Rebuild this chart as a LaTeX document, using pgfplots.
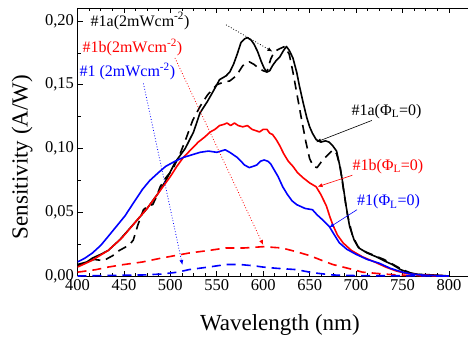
\documentclass[border=0pt]{standalone}
\usepackage{fontspec}
\setmainfont{Liberation Serif}
\usepackage{pgfplots}
\pgfplotsset{compat=1.18}
\usetikzlibrary{arrows.meta}
\definecolor{myred}{RGB}{255,0,0}
\definecolor{myblue}{RGB}{0,0,255}
\begin{document}
\begin{tikzpicture}
\useasboundingbox (-77.5pt,-64pt) rectangle (392.5pt,276pt);
\begin{axis}[
  scale only axis,
  width=390pt, height=268pt,
  xmin=400, xmax=820, ymin=0, ymax=0.2102,
  axis y line*=left,
  xtick={400,450,...,800},
  ytick={0,0.05,0.10,0.15,0.20},
  minor x tick num=3,
  minor y tick num=1,
  major tick length=5pt, minor tick length=3pt,
  tick style={line width=0.7pt, black},
  axis line style={line width=0.8pt},
  /pgf/number format/assume math mode=true,
  yticklabel style={/pgf/number format/.cd, use comma, fixed, fixed zerofill, precision=2},
  xticklabel style={/pgf/number format/.cd, 1000 sep={}},
  ticklabel style={font=\fontsize{16.5}{18}\selectfont},
  scaled y ticks=false,
  xlabel={Wavelength (nm)},
  ylabel={Sensitivity (A/W)},
  label style={font=\fontsize{23}{26}\selectfont},
  xlabel style={at={(axis description cs:0.519,-0.183)}, anchor=center},
  ylabel style={at={(axis description cs:-0.142,0.444)}, anchor=center},
  every axis plot/.append style={line width=1.6pt, line join=round},
  mydash/.style={dash pattern=on 9pt off 6pt},
]
% Black solid #1a(PhiL=0)
\addplot[black] coordinates {
(400,0.009)(410,0.011)(416,0.014)(425,0.017)(433,0.020)(445,0.028)(462,0.042)(475,0.053)(487,0.065)(496,0.076)(505,0.089)(516,0.100)(525,0.113)(532,0.128)(540,0.137)(547,0.146)(553,0.154)(560,0.157)(564,0.160)(568,0.166)(572,0.174)(576,0.183)(580,0.186)(583,0.187)(587,0.185)(590,0.182)(594,0.176)(598,0.168)(601,0.163)(604,0.160)(607,0.161)(610,0.165)(614,0.169)(618,0.172)(622,0.177)(625,0.180)(628,0.177)(632,0.171)(636,0.160)(639,0.149)(643,0.136)(647,0.124)(650,0.117)(653,0.112)(657,0.107)(662,0.105)(667,0.106)(671,0.105)(675,0.102)(679,0.098)(682,0.088)(685,0.076)(689,0.056)(693,0.039)(698,0.028)(703,0.022)(712,0.018)(722,0.015)(730,0.012)(739,0.009)(748,0.005)(757,0.0025)(768,0.0012)(778,0.001)(790,0.0005)(800,0.0)
};
% Black dashed #1a(2mW)
\addplot[black, mydash] coordinates {
(400,0.008)(418,0.013)(428,0.012)(438,0.016)(445,0.020)(455,0.024)(460,0.028)(465,0.040)(471,0.052)(476,0.055)(481,0.056)(485,0.062)(489,0.070)(495,0.077)(502,0.083)(510,0.095)(517,0.108)(524,0.122)(532,0.133)(540,0.142)(550,0.150)(557,0.152)(564,0.153)(571,0.157)(578,0.165)(585,0.168)(590,0.166)(595,0.163)(600,0.161)(604,0.160)(608,0.170)(612,0.176)(617,0.178)(623,0.180)(628,0.174)(632,0.160)(636,0.144)(641,0.124)(646,0.105)(650,0.092)(654,0.086)(658,0.085)(662,0.089)(667,0.093)(671,0.096)(675,0.099)(679,0.096)(683,0.085)(687,0.065)(691,0.047)(696,0.032)(702,0.023)(710,0.019)(720,0.016)(730,0.013)(740,0.009)(750,0.005)(760,0.002)(770,0.001)(790,0.0003)(800,0.0)
};
% Red solid #1b(PhiL=0)
\addplot[myred] coordinates {
(400,0.007)(415,0.012)(433,0.020)(448,0.030)(462,0.042)(475,0.053)(487,0.065)(500,0.078)(507,0.086)(514,0.093)(522,0.099)(530,0.105)(537,0.109)(543,0.113)(548,0.115)(553,0.118)(558,0.119)(561,0.120)(565,0.118)(569,0.120)(573,0.118)(578,0.117)(583,0.118)(588,0.115)(592,0.114)(596,0.113)(600,0.115)(604,0.115)(607,0.112)(610,0.111)(614,0.107)(618,0.102)(622,0.096)(627,0.090)(632,0.086)(637,0.081)(643,0.077)(650,0.073)(657,0.070)(662,0.064)(668,0.055)(672,0.046)(675,0.040)(680,0.032)(686,0.026)(695,0.020)(707,0.015)(720,0.011)(732,0.007)(743,0.004)(754,0.002)(765,0.001)(780,0.0005)(800,0.0)
};
% Red dashed #1b(2mW)
\addplot[myred, mydash] coordinates {
(400,0.003)(420,0.005)(433,0.007)(450,0.009)(470,0.011)(490,0.014)(505,0.016)(520,0.018)(541,0.020)(560,0.022)(580,0.022)(600,0.023)(620,0.022)(636,0.019)(650,0.016)(664,0.012)(675,0.009)(686,0.007)(697,0.005)(707,0.003)(723,0.002)(740,0.001)(760,0.0003)(800,0.0)
};
% Blue solid #1(PhiL=0)
\addplot[myblue] coordinates {
(400,0.011)(408,0.014)(416,0.018)(425,0.024)(433,0.031)(442,0.039)(451,0.047)(460,0.057)(470,0.068)(478,0.075)(487,0.081)(495,0.086)(505,0.090)(514,0.093)(523,0.095)(532,0.097)(541,0.098)(550,0.097)(559,0.099)(564,0.097)(568,0.095)(572,0.093)(576,0.090)(580,0.087)(585,0.085)(589,0.086)(593,0.087)(597,0.090)(601,0.091)(605,0.090)(608,0.088)(612,0.083)(616,0.078)(621,0.070)(626,0.064)(631,0.059)(636,0.056)(645,0.053)(653,0.052)(658,0.048)(664,0.044)(671,0.039)(676,0.033)(682,0.026)(690,0.021)(700,0.017)(712,0.013)(725,0.010)(737,0.006)(750,0.003)(760,0.0015)(775,0.0005)(800,0.0)
};
% Blue dashed #1(2mW)
\addplot[myblue, mydash] coordinates {
(400,0.0)(440,0.0005)(470,0.0008)(490,0.0015)(508,0.003)(520,0.005)(541,0.007)(560,0.009)(575,0.009)(590,0.008)(600,0.007)(615,0.006)(636,0.005)(650,0.003)(660,0.002)(675,0.0008)(700,0.0003)(800,0.0)
};
% annotations
\node[anchor=west, inner sep=0pt, font=\fontsize{16}{18}\selectfont, black] at (axis cs:414,0.200) {\#1a(2mWcm\textsuperscript{-2})};
\node[anchor=west, inner sep=0pt, font=\fontsize{16}{18}\selectfont, myred] at (axis cs:405.4,0.1795) {\#1b(2mWcm\textsuperscript{-2})};
\node[anchor=west, inner sep=0pt, font=\fontsize{16}{18}\selectfont, myblue] at (axis cs:402,0.1606) {\#1 (2mWcm\textsuperscript{-2})};
\node[anchor=west, inner sep=0pt, font=\fontsize{16}{18}\selectfont, black] at (axis cs:695,0.129) {\#1a(Φ\textsubscript{L}=0)};
\node[anchor=west, inner sep=0pt, font=\fontsize{16}{18}\selectfont, myred] at (axis cs:696,0.086) {\#1b(Φ\textsubscript{L}=0)};
\node[anchor=west, inner sep=0pt, font=\fontsize{16}{18}\selectfont, myblue] at (axis cs:701,0.058) {\#1(Φ\textsubscript{L}=0)};
\draw[black, line width=0.8pt, dotted, -{Latex[length=5pt,width=4pt]}] (axis cs:560,0.197) -- (axis cs:610,0.176);
\draw[myred, line width=0.8pt, dotted, -{Latex[length=5pt,width=4pt]}] (axis cs:505,0.171) -- (axis cs:600,0.0243);
\draw[myblue, line width=0.8pt, dotted, -{Latex[length=5pt,width=4pt]}] (axis cs:471,0.151) -- (axis cs:513,0.0086);
\draw[black, line width=0.6pt, -{Latex[length=5pt,width=4pt]}] (axis cs:717,0.122) -- (axis cs:657,0.105);
\draw[myred, line width=0.6pt, -{Latex[length=5pt,width=4pt]}] (axis cs:696,0.079) -- (axis cs:658.5,0.070);
\draw[myblue, line width=0.6pt, -{Latex[length=5pt,width=4pt]}] (axis cs:701,0.052) -- (axis cs:671,0.038);
\end{axis}
\end{tikzpicture}
\end{document}
